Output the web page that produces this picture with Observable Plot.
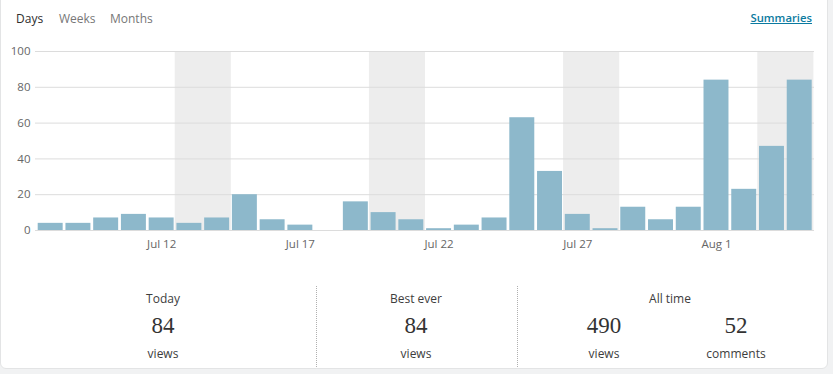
<!DOCTYPE html>
<html>
<head>
<meta charset="utf-8">
<script src="https://cdn.jsdelivr.net/npm/d3@7"></script>
<script src="https://cdn.jsdelivr.net/npm/@observablehq/plot@0.6"></script>
<style>
  html, body { margin: 0; padding: 0; background: #f1f2f3; width: 833px; height: 374px; overflow: hidden; }
  .card { position: absolute; left: 0px; top: -6px; width: 828px; height: 375px; background: #fff;
          border: 1px solid #e3e4e5; border-radius: 6px; box-sizing: border-box; }
  .txt { position: absolute; font-family: "Open Sans", sans-serif; white-space: nowrap; }
  .tab { top: 10px; font-size: 12px; color: #777; }
  .tab.active { color: #2e2e2e; }
  .link { top: 10px; right: 21px; font-size: 11.3px; color: #0b7aa0; font-weight: 600; text-decoration: underline; }
  #chart { position: absolute; left: 0; top: 40px; }
  .lab { font-size: 12px; color: #3d3d3d; transform: translateX(-50%); }
  .num { font-family: "Liberation Serif", "DejaVu Serif", serif; font-size: 23px; color: #333; transform: translateX(-50%); }
  .vline { position: absolute; width: 0; border-left: 1px dotted #b0b0b0; top: 286px; height: 81px; }
</style>
</head>
<body>
<div class="card"></div>
<div class="txt tab active" style="left:16px">Days</div>
<div class="txt tab" style="left:59px">Weeks</div>
<div class="txt tab" style="left:110px">Months</div>
<div class="txt link">Summaries</div>
<div id="chart"></div>
<div id="stats"></div>
<script>
// ---- data ----
const days = ["2019-07-08","2019-07-09","2019-07-10","2019-07-11","2019-07-12","2019-07-13","2019-07-14",
              "2019-07-15","2019-07-16","2019-07-17","2019-07-18","2019-07-19","2019-07-20","2019-07-21",
              "2019-07-22","2019-07-23","2019-07-24","2019-07-25","2019-07-26","2019-07-27","2019-07-28",
              "2019-07-29","2019-07-30","2019-07-31","2019-08-01","2019-08-02","2019-08-03","2019-08-04"];
const views = [4, 4, 7, 9, 7, 4, 7,
               20, 6, 3, 0, 16, 10, 6,
               1, 3, 7, 63, 33, 9, 1,
               13, 6, 13, 84, 23, 47, 84];
const weekendDays = ["2019-07-13","2019-07-14","2019-07-20","2019-07-21",
                     "2019-07-27","2019-07-28","2019-08-03","2019-08-04"];
const tickDays = ["2019-07-12","2019-07-17","2019-07-22","2019-07-27","2019-08-01"];
const tickLabels = ["Jul 12","Jul 17","Jul 22","Jul 27","Aug 1"];
const yTicks = [0, 20, 40, 60, 80, 100];
const yMax = 100;

const statLabels = ["Today", "Best ever", "All time"];
const statNumbers = ["84", "84", "490", "52"];
const statUnits = ["views", "views", "views", "comments"];

// ---- chart ----
const data = days.map((d, i) => ({day: d, views: views[i]}));
const labelOf = new Map(tickDays.map((d, i) => [d, tickLabels[i]]));

const chart = Plot.plot({
  width: 833,
  height: 220,
  marginTop: 11,
  marginBottom: 30,
  marginLeft: 35,
  marginRight: 19,
  style: {fontFamily: "Open Sans, sans-serif", fontSize: "11.5px", color: "#666", background: "transparent"},
  x: {domain: days, paddingInner: 0.1, paddingOuter: 0, round: false, insetLeft: 2.7, insetRight: 2.3, label: null},
  y: {domain: [0, yMax], label: null},
  marks: [
    Plot.barY(weekendDays, {x: d => d, y: () => yMax, fill: "#ededed", insetLeft: -1.7, insetRight: -1.7}),
    Plot.ruleY(yTicks, {stroke: "#dcdcdc", strokeWidth: 1}),
    Plot.barY(data, {x: "day", y: "views", fill: "#8db8cb"}),
    Plot.axisY(yTicks, {tickSize: 0, tickPadding: 5, fill: "#666", fontSize: 11.5}),
    Plot.axisX(tickDays, {tickSize: 0, tickPadding: 9, fill: "#666", fontSize: 11.5, tickFormat: d => labelOf.get(d)})
  ]
});
document.getElementById("chart").appendChild(chart);

// ---- stats ----
const stats = document.getElementById("stats");
function add(cls, text, x, y) {
  const el = document.createElement("div");
  el.className = "txt " + cls;
  el.textContent = text;
  el.style.left = x + "px";
  el.style.top = y + "px";
  stats.appendChild(el);
}
const labelX = [163, 416, 670];
statLabels.forEach((t, i) => add("lab", t, labelX[i], 290));
const numX = [163, 416, 604, 736];
statNumbers.forEach((t, i) => add("num", t, numX[i], 313));
statUnits.forEach((t, i) => add("lab", t, numX[i], 345));
[316, 517].forEach(x => {
  const v = document.createElement("div");
  v.className = "vline";
  v.style.left = x + "px";
  stats.appendChild(v);
});
</script>
</body>
</html>
